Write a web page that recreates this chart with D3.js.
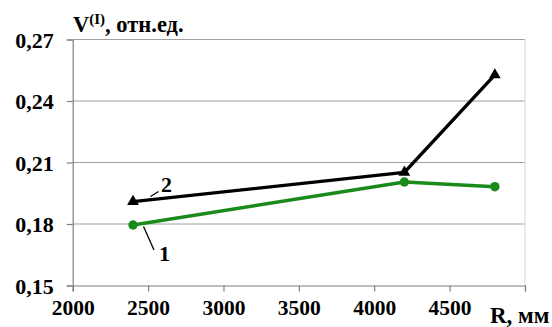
<!DOCTYPE html>
<html>
<head>
<meta charset="utf-8">
<script src="https://cdn.jsdelivr.net/npm/d3@7"></script>
<style>
  html, body { margin: 0; padding: 0; background: #fff; }
  svg { display: block; }
</style>
</head>
<body>
<svg id="chart" width="552" height="327"></svg>
<script>
// Radius R, mm
const radius = [2400, 4200, 4800];
// Curve 1 (green, circles) and curve 2 (black, triangles), rel. units
const series1 = [0.1795, 0.2005, 0.1982];
const series2 = [0.1909, 0.2052, 0.2527];
const xTicks = [2000, 2500, 3000, 3500, 4000, 4500, 5000];
const yTicks = [0.15, 0.18, 0.21, 0.24, 0.27];

const FONT = '"Liberation Serif", "Times New Roman", serif';
const svg = d3.select("#chart");
const m = { left: 72.7, right: 525, top: 39.5, bottom: 285.5 };

const x = d3.scaleLinear().domain([2000, 5000]).range([m.left, m.right]);
const y = d3.scaleLinear().domain([0.15, 0.27]).range([m.bottom, m.top]);
const fmtY = v => d3.format(".2f")(v).replace(".", ",");

function styleText(sel, size) {
  sel.style("font-family", FONT).style("font-weight", "bold")
     .style("font-size", size + "px").attr("fill", "#000");
}

// horizontal gridlines
svg.append("g").selectAll("line").data(yTicks.slice(1)).join("line")
  .attr("x1", m.left).attr("x2", m.right)
  .attr("y1", d => y(d)).attr("y2", d => y(d))
  .attr("stroke", "#a0a0a0").attr("stroke-width", 1.2);

// right border
svg.append("line").attr("x1", m.right).attr("x2", m.right)
  .attr("y1", m.top).attr("y2", m.bottom)
  .attr("stroke", "#d8d8d8").attr("stroke-width", 1);

// y axis
const yAxis = svg.append("g").attr("transform", `translate(${m.left},0)`)
  .call(d3.axisLeft(y).tickValues(yTicks).tickSize(6).tickPadding(13).tickFormat(fmtY));
yAxis.attr("font-family", null);
yAxis.select(".domain").attr("stroke", "#808080").attr("stroke-width", 1.2);
yAxis.selectAll(".tick line").attr("stroke", "#808080").attr("stroke-width", 1.2);
yAxis.selectAll("text").call(styleText, 22).attr("dy", "0.35em");

// x axis
const xAxis = svg.append("g").attr("transform", `translate(0,${m.bottom})`)
  .call(d3.axisBottom(x).tickValues(xTicks).tickSize(6).tickPadding(8)
    .tickFormat(d => d === 5000 ? "" : d));
xAxis.attr("font-family", null);
xAxis.select(".domain").attr("stroke", "#808080").attr("stroke-width", 1.2);
xAxis.selectAll(".tick line").attr("stroke", "#808080").attr("stroke-width", 1.2);
xAxis.selectAll("text").call(styleText, 21.5);

// axis titles
svg.append("text").attr("x", 490).attr("y", 323).call(styleText, 23)
  .text("R, мм");
const t = svg.append("text").attr("x", 73).attr("y", 32).call(styleText, 22.5);
t.append("tspan").text("V");
t.append("tspan").attr("dy", -8).style("font-size", "15px").text("(I)");
t.append("tspan").attr("dy", 8).text(", отн.ед.");

// curves
const line = d3.line().x((d, i) => x(radius[i])).y(d => y(d));

svg.append("path").datum(series1).attr("d", line)
  .attr("fill", "none").attr("stroke", "#1a8a1a").attr("stroke-width", 3.4)
  .attr("stroke-linejoin", "round");
svg.append("g").selectAll("circle").data(series1).join("circle")
  .attr("cx", (d, i) => x(radius[i])).attr("cy", d => y(d)).attr("r", 4.7)
  .attr("fill", "#1a8a1a");

svg.append("path").datum(series2).attr("d", line)
  .attr("fill", "none").attr("stroke", "#000").attr("stroke-width", 3.4)
  .attr("stroke-linejoin", "round");
svg.append("g").selectAll("path").data(series2).join("path")
  .attr("d", d3.symbol(d3.symbolTriangle, 60))
  .attr("transform", (d, i) => `translate(${x(radius[i])},${y(d)})`)
  .attr("fill", "#000");

// curve labels with leader lines
svg.append("line").attr("x1", 143.5).attr("y1", 226.5).attr("x2", 154).attr("y2", 250)
  .attr("stroke", "#000").attr("stroke-width", 1.3);
svg.append("text").attr("x", 159).attr("y", 261).call(styleText, 22).text("1");

svg.append("line").attr("x1", 150.5).attr("y1", 196.5).attr("x2", 158.5).attr("y2", 191.5)
  .attr("stroke", "#000").attr("stroke-width", 1.3);
svg.append("text").attr("x", 161).attr("y", 192).call(styleText, 22).text("2");
</script>
</body>
</html>
